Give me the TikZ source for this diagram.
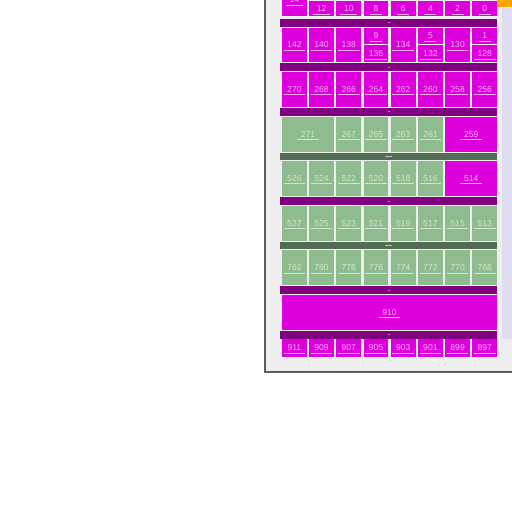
\documentclass[tikz,border=0pt]{standalone}
\usepackage{fontspec}
\setsansfont{Liberation Sans}
\usetikzlibrary{positioning}
\definecolor{mmmag}{HTML}{DD00DD}
\definecolor{mmbar}{HTML}{800080}
\definecolor{mmgreen}{HTML}{8FBC8F}
\definecolor{mmgbar}{HTML}{546B54}
\definecolor{mmframe}{HTML}{EEEEEE}
\definecolor{mmedge}{HTML}{5C5C5C}
\definecolor{mmlav}{HTML}{DEDEF0}
\definecolor{mmorange}{HTML}{FFA500}
\tikzset{
  every picture/.style={line cap=butt, line join=miter},
  magfill/.style={fill=mmmag},
  grnfill/.style={fill=mmgreen},
  lblbase/.style={font=\sffamily\fontsize{4.3}{5}\selectfont, inner xsep=1.6pt, inner ysep=0.9pt,
    text=#1, append after command={(\tikzlastnode.south west) edge[draw=#1, line width=0.25pt] (\tikzlastnode.south east)}},
  maglbl/.style={lblbase=mmmag!32!white},
  grnlbl/.style={lblbase=mmgreen!40!white},
  mbar/.style={fill=mmbar},
  gbar/.style={fill=mmgbar},
  mbartick/.style={draw=mmmag!60!white, line width=0.25pt},
  gbartick/.style={draw=black!25!white, line width=0.3pt},
}
% one block of the map: x0, y0, x1, y1, kind, label
\newcommand{\mcell}[6]{%
  \fill[#5fill] (#1,#2) rectangle (#3,#4);
  \node[#5lbl] (m#6) at ({(#1+#3)/2},{(#2+#4)/2}) {#6};}

\begin{document}
\begin{tikzpicture}[x=0.5pt, y=-0.5pt]
\useasboundingbox (0,0) rectangle (512,512);
\clip (0,0) rectangle (512,512);
% the frame
\fill[mmframe] (265,-10) rectangle (520,371.8);
\draw[mmedge, line width=0.7pt] (265,-10) -- (265,371.8) -- (520,371.8);
\fill[mmlav] (502,8) rectangle (520,338.5);
\fill[mmorange] (497.3,-10) rectangle (520,7.4);
% bars between the rows
\foreach \ya/\yb/\kind [count=\k] in {18.7/26.7/mbar, 63.3/71/mbar, 107.7/115.7/mbar,
    152.7/160.3/gbar, 197/205/mbar, 241.7/249.3/gbar, 286/294/mbar, 330.7/338.7/mbar} {
  \fill[\kind] (280.3,\ya) rectangle (496.9,\yb);
  \coordinate (bar\k) at (388.6,{(\ya+\yb)/2});
}
\foreach \k in {1,2,3,5,7,8}
  \draw[mbartick] ([xshift=-0.5pt]bar\k) -- ([xshift=0.5pt]bar\k);
\foreach \k in {4,6}
  \draw[gbartick] ([xshift=-1.8pt]bar\k) -- ([xshift=1.8pt]bar\k);
% row 0
\mcell{282}{-17}{306.8}{16.5}{mag}{14}
\foreach \lab [count=\i] in {12,10,8,6,4,2,0} {
  \pgfmathsetmacro{\xa}{282+27.2*\i}
  \pgfmathsetmacro{\xb}{\xa+24.8}
  \mcell{\xa}{0.7}{\xb}{16.5}{mag}{\lab}
}
% row 1
\foreach \i/\lab in {0/142,1/140,2/138,4/134,6/130} {
  \pgfmathsetmacro{\xa}{282+27.2*\i}
  \pgfmathsetmacro{\xb}{\xa+24.8}
  \mcell{\xa}{27.7}{\xb}{62.3}{mag}{\lab}
}
\foreach \i/\laba/\labb in {3/9/136,5/5/132,7/1/128} {
  \pgfmathsetmacro{\xa}{282+27.2*\i}
  \pgfmathsetmacro{\xb}{\xa+24.8}
  \mcell{\xa}{27.7}{\xb}{43.8}{mag}{\laba}
  \mcell{\xa}{45}{\xb}{62.3}{mag}{\labb}
}
% row 2
\foreach \lab [count=\i from 0] in {270,268,266,264,262,260,258,256} {
  \pgfmathsetmacro{\xa}{282+27.2*\i}
  \pgfmathsetmacro{\xb}{\xa+24.8}
  \mcell{\xa}{72}{\xb}{106.7}{mag}{\lab}
}
% row 3
\mcell{282}{116.7}{334}{151.7}{grn}{271}
\foreach \lab [count=\i from 2] in {267,265,263,261} {
  \pgfmathsetmacro{\xa}{282+27.2*\i}
  \pgfmathsetmacro{\xb}{\xa+24.8}
  \mcell{\xa}{116.7}{\xb}{151.7}{grn}{\lab}
}
\mcell{445.2}{116.7}{497.2}{151.7}{mag}{259}
% row 4
\foreach \lab [count=\i from 0] in {526,524,522,520,518,516} {
  \pgfmathsetmacro{\xa}{282+27.2*\i}
  \pgfmathsetmacro{\xb}{\xa+24.8}
  \mcell{\xa}{161}{\xb}{196}{grn}{\lab}
}
\mcell{445.2}{161}{497.2}{196}{mag}{514}
% rows 5 and 6
\foreach \lab [count=\i from 0] in {527,525,523,521,519,517,515,513} {
  \pgfmathsetmacro{\xa}{282+27.2*\i}
  \pgfmathsetmacro{\xb}{\xa+24.8}
  \mcell{\xa}{206}{\xb}{240.7}{grn}{\lab}
}
\foreach \lab [count=\i from 0] in {782,780,778,776,774,772,770,768} {
  \pgfmathsetmacro{\xa}{282+27.2*\i}
  \pgfmathsetmacro{\xb}{\xa+24.8}
  \mcell{\xa}{250.3}{\xb}{285}{grn}{\lab}
}
% row 7
\mcell{282}{295}{497.2}{330}{mag}{910}
% row 8
\foreach \lab [count=\i from 0] in {911,909,907,905,903,901,899,897} {
  \pgfmathsetmacro{\xa}{282+27.2*\i}
  \pgfmathsetmacro{\xb}{\xa+24.8}
  \mcell{\xa}{339.3}{\xb}{356.7}{mag}{\lab}
}
\end{tikzpicture}
\end{document}
